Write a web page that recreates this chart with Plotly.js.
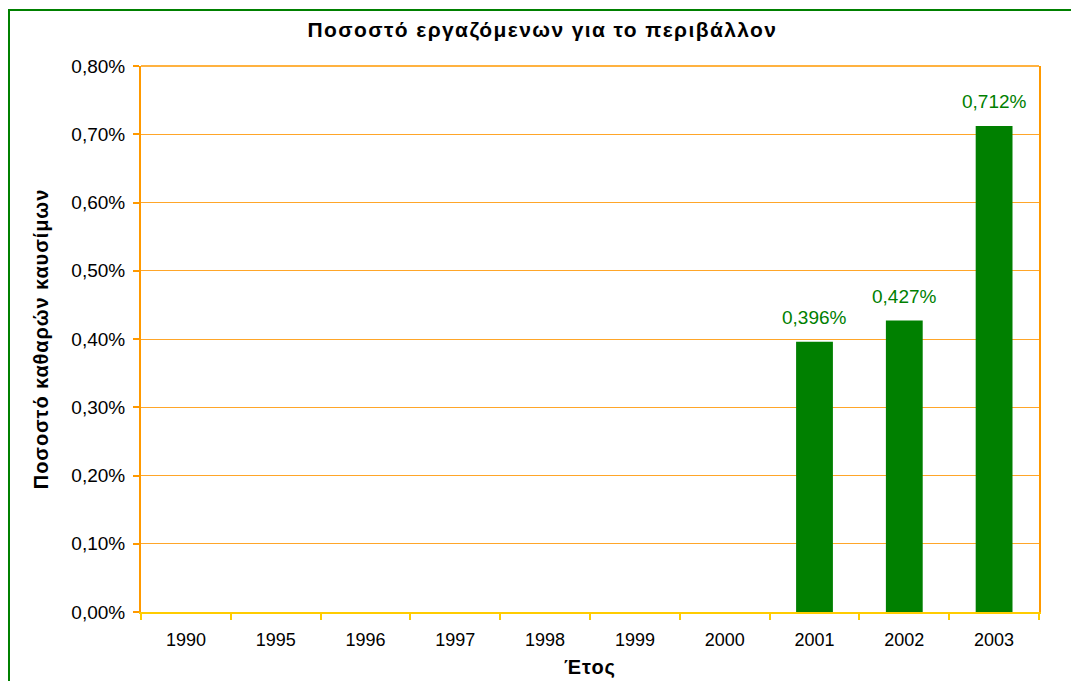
<!DOCTYPE html>
<html>
<head>
<meta charset="utf-8">
<script src="https://cdn.plot.ly/plotly-3.0.1.min.js"></script>
<style>
  html, body { margin: 0; padding: 0; background: #fff; overflow: hidden; }
  #chart { width: 1071px; height: 681px; }
  #frame { position: absolute; left: 8px; top: 9px; width: 1100px; height: 700px;
           border-left: 2px solid #008000; border-top: 2px solid #008000; pointer-events: none; }
  .gtitle { letter-spacing: 1.4px; }
  .ytitle { letter-spacing: 0.9px; }
  .xtitle { letter-spacing: 1px; }
</style>
</head>
<body>
<div id="chart"></div>
<div id="frame"></div>
<script>
const years = ['1990', '1995', '1996', '1997', '1998', '1999', '2000', '2001', '2002', '2003'];
const shares = [null, null, null, null, null, null, null, 0.00396, 0.00427, 0.00712];
const yTicks = [0, 0.001, 0.002, 0.003, 0.004, 0.005, 0.006, 0.007, 0.008];

const FONT = 'Liberation Sans, Arial, sans-serif';

const trace = {
  type: 'bar',
  x: years,
  y: shares,
  width: 0.41,
  marker: { color: '#008000' },
  hoverinfo: 'x+y'
};

const labels = [];
years.forEach(function (yr, i) {
  const v = shares[i];
  if (v === null) return;
  labels.push({
    x: i, y: v, xref: 'x', yref: 'y',
    text: (v * 100).toFixed(3).replace('.', ',') + '%',
    showarrow: false,
    yanchor: 'bottom',
    yshift: 12,
    font: { family: FONT, size: 19, color: '#008000' }
  });
});

const layout = {
  width: 1071,
  height: 681,
  margin: { l: 141, r: 32, t: 66, b: 69 },
  paper_bgcolor: '#ffffff',
  plot_bgcolor: '#ffffff',
  separators: ',.',
  showlegend: false,
  font: { family: FONT, size: 18, color: '#000' },
  title: {
    text: '<b>Ποσοστό εργαζόμενων για το περιβάλλον</b>',
    font: { size: 21, color: '#000' },
    x: 0.5065, xanchor: 'center',
    y: 0.956, yanchor: 'middle'
  },
  annotations: labels,
  shapes: [{
    type: 'line', xref: 'paper', yref: 'paper',
    x0: 0, x1: 1, y0: 1, y1: 1,
    line: { color: '#FF9900', width: 1.5 }
  }],
  xaxis: {
    type: 'category',
    categoryarray: years,
    tickson: 'boundaries',
    ticks: 'outside',
    ticklen: 6,
    tickcolor: '#FFCC00',
    tickwidth: 2,
    ticklabelstandoff: 10,
    tickangle: 0,
    showline: true,
    linecolor: '#FFCC00',
    linewidth: 2,
    showgrid: false,
    tickfont: { size: 18 },
    title: { text: '<b>Έτος</b>', font: { size: 20 }, standoff: 11 }
  },
  yaxis: {
    range: [0, 0.008],
    tickvals: yTicks,
    tickformat: '.2%',
    ticks: 'outside',
    ticklen: 6,
    tickcolor: '#FF9900',
    tickwidth: 2,
    ticklabelstandoff: 4,
    showline: true,
    mirror: true,
    linecolor: '#FF9900',
    linewidth: 2,
    showgrid: true,
    gridcolor: '#FFA629',
    gridwidth: 1,
    zeroline: false,
    tickfont: { size: 19 },
    title: { text: '<b>Ποσοστό καθαρών καυσίμων</b>', font: { size: 20 }, standoff: 17 }
  }
};

Plotly.newPlot('chart', [trace], layout, { displayModeBar: false, staticPlot: true });
</script>
</body>
</html>
